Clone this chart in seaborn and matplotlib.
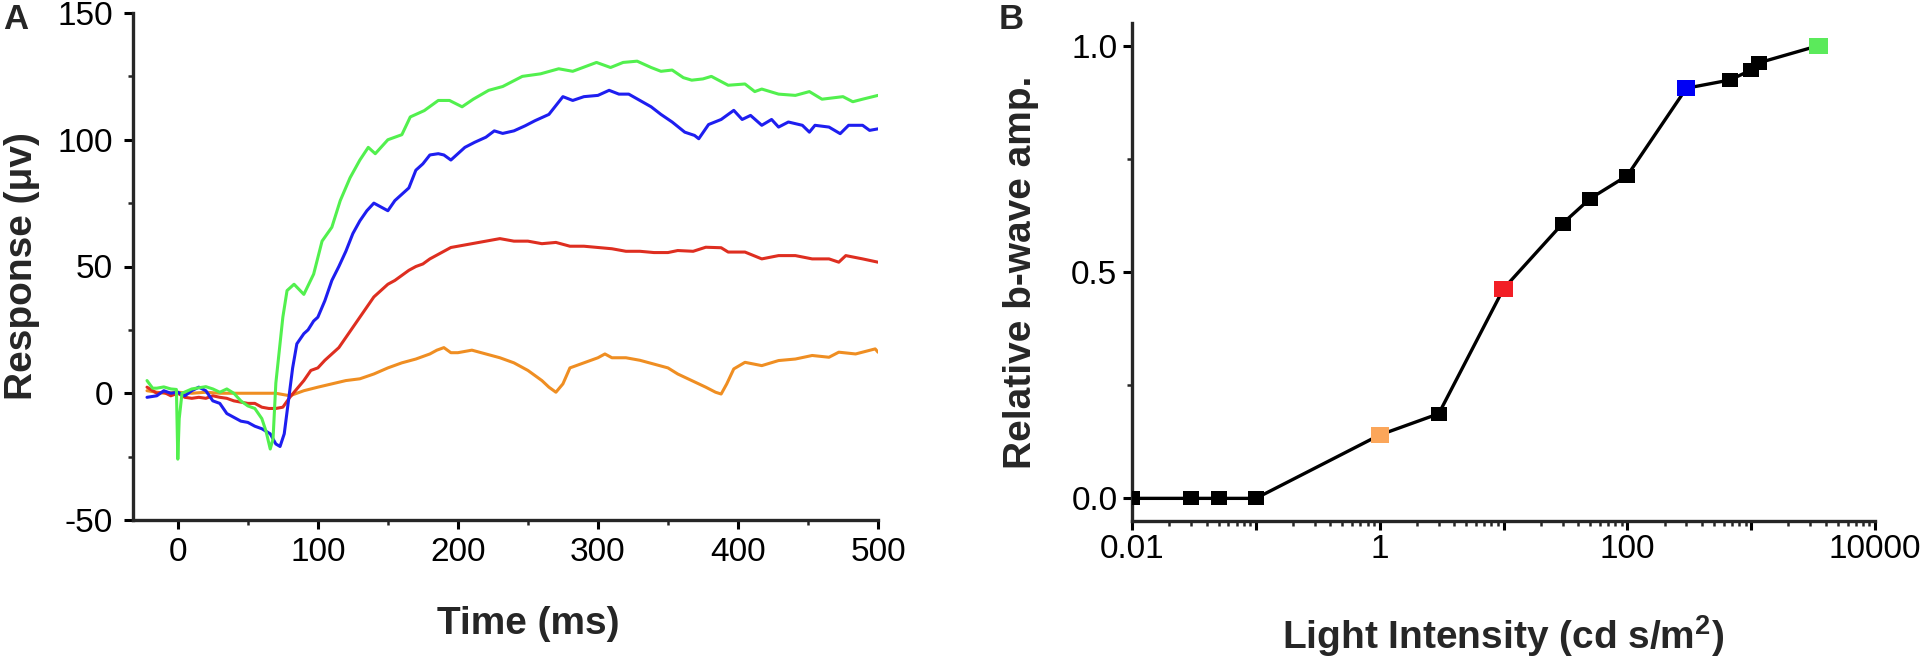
import matplotlib
matplotlib.use("Agg")
import matplotlib.pyplot as plt
import matplotlib.ticker as mticker
import numpy as np
import pandas as pd
import seaborn as sns

# ── Panel A: ERG traces (time in ms, response in µV) ──
GREEN_T = [-22, -18, -15, -10, -5, -1, 0, 1, 3, 10, 20, 25, 30, 35, 40, 45, 50, 55, 60, 63,
           66, 68, 70, 75, 78, 83, 90, 97, 103, 110, 116, 123, 130, 136, 141, 150, 160, 166,
           176, 186, 194, 203, 211, 222, 232, 246, 259, 272, 282, 299, 309, 318, 328, 338,
           345, 353, 361, 367, 375, 381, 393, 405, 412, 417, 429, 441, 451, 460, 475, 482,
           489, 500]
GREEN_UV = [5, 2, 2, 2.5, 1.7, 1.5, -26, -10, 0, 1.7, 2.6, 1.7, 0.4, 1.7, 0, -3, -5, -6, -10, -15,
            -22, -18, 4, 30, 40.5, 43, 39, 47, 60, 65.5, 76, 85, 92, 97, 94.5, 100, 102, 109,
            111.5, 115.5, 115.5, 113, 116, 119.5, 121, 125, 126, 128, 127, 130.5, 128.5, 130.5,
            131, 128.5, 127, 127.5, 124.5, 123.5, 124, 125, 121.5, 122, 119, 120, 118, 117.5,
            119, 116, 117, 115, 116, 117.5]

BLUE_T = [-22, -15, -10, -5, 0, 5, 10, 15, 20, 25, 30, 35, 40, 45, 50, 55, 60, 63, 66, 70, 73,
          76, 79, 82, 85, 90, 93, 97, 100, 105, 110, 115, 120, 125, 130, 135, 140, 145, 150,
          155, 160, 165, 170, 175, 180, 186, 190, 195, 200, 205, 212, 220, 226, 232, 240, 248,
          255, 265, 275, 282, 290, 300, 308, 315, 322, 330, 338, 345, 353, 362, 369, 372, 379,
          388, 397, 403, 409, 417, 424, 429, 436, 446, 451, 455, 465, 473, 479, 489, 494, 500]
BLUE_UV = [-1.6, -1, 1, 0, 0.4, -1, 1, 2.4, 1, -3, -4, -8, -9.5, -11, -11.5, -13, -14, -15, -16,
           -20, -21, -16, -3, 10, 19.5, 23.5, 25, 28.5, 30, 36.5, 44.5, 50, 56, 63, 68, 72, 75,
           73.5, 72, 76, 78.5, 81, 88, 90.5, 94, 94.5, 94, 92, 94.5, 97, 99, 101, 103.5, 102.5,
           103.5, 105.5, 107.5, 110, 117, 115.5, 117, 117.5, 119.5, 118, 118, 115.5, 113, 110,
           107, 103, 101.7, 100.4, 106, 108, 111.6, 108, 109.6, 105.7, 108, 105, 107, 105.7,
           103, 105.7, 105, 102.4, 105.7, 105.7, 103.7, 104.3]

RED_T = [-22, -15, -10, -5, 0, 5, 10, 15, 20, 25, 30, 35, 40, 45, 50, 55, 60, 65, 70, 75, 80,
         85, 90, 95, 100, 105, 110, 115, 120, 125, 130, 135, 140, 145, 150, 155, 160, 165, 170,
         175, 180, 185, 190, 195, 200, 210, 220, 230, 240, 250, 260, 270, 280, 290, 300, 310,
         320, 330, 340, 350, 357, 368, 377, 388, 393, 405, 417, 429, 441, 453, 465, 472, 477,
         489, 500]
RED_UV = [2.4, 0, 0.4, -1, 0, -1.6, -2, -1.6, -2, -1, -1.6, -2, -3, -3.5, -4, -4, -5.5, -6, -6,
          -5.5, -1.6, 1.7, 5, 9, 10, 13, 15.5, 18, 22, 26, 30, 34, 38, 40.5, 43, 44.5, 46.5,
          48.5, 50, 51, 53, 54.5, 56, 57.5, 58, 59, 60, 61, 60, 60, 59, 59.5, 58, 58, 57.5, 57,
          56, 56, 55.5, 55.5, 56.3, 56, 57.6, 57.4, 55.7, 55.7, 53, 54.3, 54.3, 53, 53, 51.7,
          54.3, 53, 51.7]

ORANGE_T = [-22, -10, 0, 10, 20, 30, 40, 50, 60, 70, 80, 85, 90, 100, 110, 120, 130, 140, 150,
            160, 170, 180, 185, 190, 195, 200, 210, 220, 230, 240, 250, 260, 265, 270, 275, 280,
            290, 300, 305, 310, 320, 330, 340, 350, 357, 367, 377, 384, 388, 392, 397, 405,
            417, 429, 441, 453, 465, 472, 484, 498, 500]
ORANGE_UV = [1, 0, 0.4, 0, 0.4, 0, 0, 0, 0, 0, -1, 0, 1, 2.4, 3.7, 5, 5.7, 7.6, 10, 12, 13.5,
             15.5, 17, 18, 16, 16, 17, 15.5, 14, 12, 9, 5, 2.4, 0.4, 3.7, 10, 12, 14, 15.5, 14,
             14, 13, 11.5, 10, 7.6, 5, 2.4, 0.4, -0.3, 3.7, 9.6, 12.2, 10.9, 12.9, 13.5, 14.9,
             14.2, 16.2, 15.5, 17.5, 16.2]

TRACE_COLORS = {"green": "#52F04E", "blue": "#1E1EF0", "red": "#DE2E20", "orange": "#EF8E22"}

# ── Panel B: intensity-response (cd s/m2 vs relative b-wave amplitude) ─────
INTENSITY = [0.01, 0.03, 0.05, 0.1, 1, 3, 10, 30, 50, 100, 300, 670, 1000, 1150, 3500]
REL_AMP = [0.0, 0.0, 0.0, 0.0, 0.14, 0.187, 0.463, 0.607, 0.662, 0.713, 0.906, 0.924,
           0.946, 0.962, 1.0]
POINT_GROUP = ["k", "k", "k", "k", "orange", "k", "red", "k", "k", "k", "blue", "k",
               "k", "k", "green"]
MARKER_COLORS = {"k": "black", "orange": "#FBA65A", "red": "#F21F26",
                 "blue": "#0000F5", "green": "#5BEA5B"}

sns.set_style("ticks")
plt.rcParams["font.family"] = ["Liberation Sans", "DejaVu Sans"]
plt.rcParams["mathtext.fontset"] = "custom"
plt.rcParams["mathtext.bf"] = "Liberation Sans:bold"
plt.rcParams["axes.unicode_minus"] = False

W, H = 1928, 662
fig = plt.figure(figsize=(W / 100, H / 100), dpi=100)
axA = fig.add_axes([133 / W, 1 - 520 / H, (878 - 133) / W, (520 - 13) / H])
axB = fig.add_axes([1132 / W, 1 - 521 / H, (1875 - 1132) / W, (521 - 23) / H])

# slightly wide rectangle, like the original markers
RECT = [(-1.15, -1), (1.15, -1), (1.15, 1), (-1.15, 1), (-1.15, -1)]

# ── Panel A ───────────────────────────────────────────────────────────────
traces = pd.concat([
    pd.DataFrame({"t": GREEN_T, "uv": GREEN_UV, "flash": "green"}),
    pd.DataFrame({"t": BLUE_T, "uv": BLUE_UV, "flash": "blue"}),
    pd.DataFrame({"t": RED_T, "uv": RED_UV, "flash": "red"}),
    pd.DataFrame({"t": ORANGE_T, "uv": ORANGE_UV, "flash": "orange"}),
], ignore_index=True)
sns.lineplot(data=traces, x="t", y="uv", hue="flash", palette=TRACE_COLORS,
             hue_order=["orange", "red", "blue", "green"], estimator=None,
             sort=False, linewidth=2.2, legend=False, ax=axA)
axA.set_xlim(-32, 500)
axA.set_ylim(-50, 150)
axA.set_xticks([0, 100, 200, 300, 400, 500])
axA.set_yticks([-50, 0, 50, 100, 150])
axA.xaxis.set_minor_locator(mticker.MultipleLocator(50))
axA.yaxis.set_minor_locator(mticker.MultipleLocator(25))
axA.set_xlabel("Time (ms)", fontsize=28, fontweight="bold")
axA.set_ylabel("Response (\u03bcv)", fontsize=28, fontweight="bold")
axA.xaxis.set_label_coords((250 + 32) / 532, -0.17)
axA.yaxis.set_label_coords(-0.125, 0.5)

# ── Panel B ───────────────────────────────────────────────────────────────
sns.lineplot(x=INTENSITY, y=REL_AMP, color="black", linewidth=2.4, ax=axB)
pts = pd.DataFrame({"x": INTENSITY, "y": REL_AMP, "g": POINT_GROUP})
sns.scatterplot(data=pts[pts.g == "k"], x="x", y="y", color="black", marker=RECT,
                s=130, linewidth=0, ax=axB, zorder=3)
sns.scatterplot(data=pts[pts.g != "k"], x="x", y="y", hue="g", palette=MARKER_COLORS,
                marker=RECT, s=170, linewidth=0, legend=False, ax=axB, zorder=4)
axB.set_xscale("log")
axB.set_xlim(0.01, 10000)
axB.set_ylim(-0.05, 1.05)
axB.xaxis.set_major_locator(mticker.FixedLocator([0.01, 0.1, 1, 10, 100, 1000, 10000]))
axB.xaxis.set_major_formatter(mticker.FixedFormatter(["0.01", "", "1", "", "100", "", "10000"]))
axB.xaxis.set_minor_locator(mticker.LogLocator(base=10, subs=np.arange(2, 10)))
axB.xaxis.set_minor_formatter(mticker.NullFormatter())
axB.set_yticks([0.0, 0.5, 1.0])
axB.yaxis.set_major_formatter(mticker.FormatStrFormatter("%.1f"))
axB.yaxis.set_minor_locator(mticker.FixedLocator([0.25, 0.75]))
axB.set_xlabel(r"Light Intensity (cd s/m$^{\mathbf{2}}$)", fontsize=28, fontweight="bold")
axB.set_ylabel("Relative b-wave amp.", fontsize=28, fontweight="bold")
axB.xaxis.set_label_coords(0.5, -0.185)
axB.yaxis.set_label_coords(-0.125, 0.5)

for ax in (axA, axB):
    sns.despine(ax=ax)
    for s in ("left", "bottom"):
        ax.spines[s].set_linewidth(2.4)
    ax.tick_params(which="major", direction="out", length=6.5, width=2.2,
                   labelsize=24, colors="black")
    ax.tick_params(which="minor", direction="out", length=3.5, width=1.8)
axA.tick_params(axis="x", which="major", pad=6)
axA.tick_params(axis="y", which="major", pad=8)
axB.tick_params(axis="x", which="major", pad=3)
axB.tick_params(axis="y", which="major", pad=4)

fig.text(3 / W, 1 - 3 / H, "A", fontsize=25, fontweight="bold", va="top", ha="left")
fig.text(999 / W, 1 - 3 / H, "B", fontsize=25, fontweight="bold", va="top", ha="left")

fig.savefig("out.png", dpi=100, facecolor="white")
